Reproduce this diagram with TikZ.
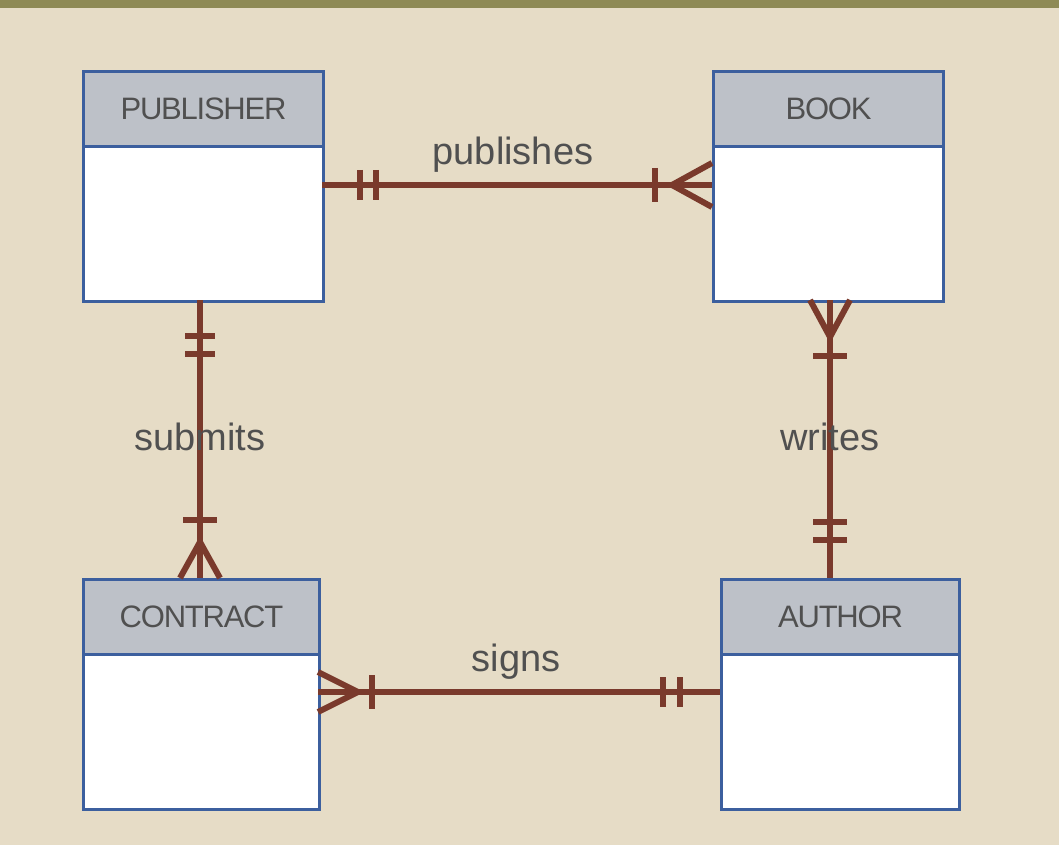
\documentclass[tikz,border=0pt]{standalone}
\usepackage{fontspec}
\setmainfont{Liberation Sans}
\begin{document}
\begin{tikzpicture}[x=1pt,y=-1pt,
  ent/.style={draw=boxblue,line width=3pt,fill=white,minimum width=#1,minimum height=155pt,inner sep=0pt},
  hdr/.style={draw=boxblue,line width=3pt,fill=hdrgray,minimum width=#1,minimum height=75pt,inner sep=0pt,font=\fontsize{31}{32}\selectfont\addfontfeatures{LetterSpace=-4},text=txtgray},
  rel/.style={draw=relbrown,line width=6pt},
  lbl/.style={font=\fontsize{38}{40}\selectfont,text=txtgray}]
\definecolor{boxblue}{HTML}{3C5F9E}
\definecolor{hdrgray}{HTML}{BDC1C8}
\definecolor{txtgray}{HTML}{505050}
\definecolor{relbrown}{HTML}{7A3A2C}
\definecolor{bg}{HTML}{E6DCC6}
\definecolor{olive}{HTML}{8E8A55}
\fill[bg] (0,0) rectangle (1059,845);
\fill[olive] (0,0) rectangle (1059,8);
\useasboundingbox (0,0) rectangle (1059,845);
% entities
\node[ent=240pt,anchor=north west] (pubb) at (82,145) {};
\node[hdr=240pt,anchor=north west] (pub) at (82,70) {PUBLISHER};
\node[ent=230pt,anchor=north west] (bookb) at (712,145) {};
\node[hdr=230pt,anchor=north west] (book) at (712,70) {BOOK};
\node[ent=236pt,anchor=north west] (conb) at (82,653) {};
\node[hdr=236pt,anchor=north west] (con) at (82,578) {CONTRACT};
\node[ent=238pt,anchor=north west] (autb) at (720,653) {};
\node[hdr=238pt,anchor=north west] (aut) at (720,578) {AUTHOR};
% coordinates
\coordinate (p1) at (322,185); \coordinate (p2) at (712,185);
\coordinate (s1) at (200,300); \coordinate (s2) at (200,578);
\coordinate (w1) at (830,300); \coordinate (w2) at (830,578);
\coordinate (g1) at (318,692); \coordinate (g2) at (720,692);
% publishes
\draw[rel] (p1) -- (p2);
\draw[rel] (360,170) -- (360,200); \draw[rel] (376,170) -- (376,200);
\draw[rel] (655,168) -- (655,202);
\draw[rel] (712,163) -- (672,185) -- (712,207);
% submits
\draw[rel] (s1) -- (s2);
\draw[rel] (185,336) -- (215,336); \draw[rel] (185,354) -- (215,354);
\draw[rel] (183,520) -- (217,520);
\draw[rel] (180,578) -- (200,542) -- (220,578);
% writes
\draw[rel] (w1) -- (w2);
\draw[rel] (810,300) -- (830,337) -- (850,300);
\draw[rel] (813,356) -- (847,356);
\draw[rel] (813,522) -- (847,522); \draw[rel] (813,540) -- (847,540);
% signs
\draw[rel] (g1) -- (g2);
\draw[rel] (318,672) -- (358,692) -- (318,712);
\draw[rel] (372,675) -- (372,709);
\draw[rel] (663,677) -- (663,707); \draw[rel] (680,677) -- (680,707);
% labels
\node[lbl] (lp) at (513,155) {publishes};
\node[lbl] (ls) at (200,437) {submits};
\node[lbl] (lw) at (830,437) {writes};
\node[lbl] (lg) at (516,662) {signs};
\end{tikzpicture}
\end{document}
